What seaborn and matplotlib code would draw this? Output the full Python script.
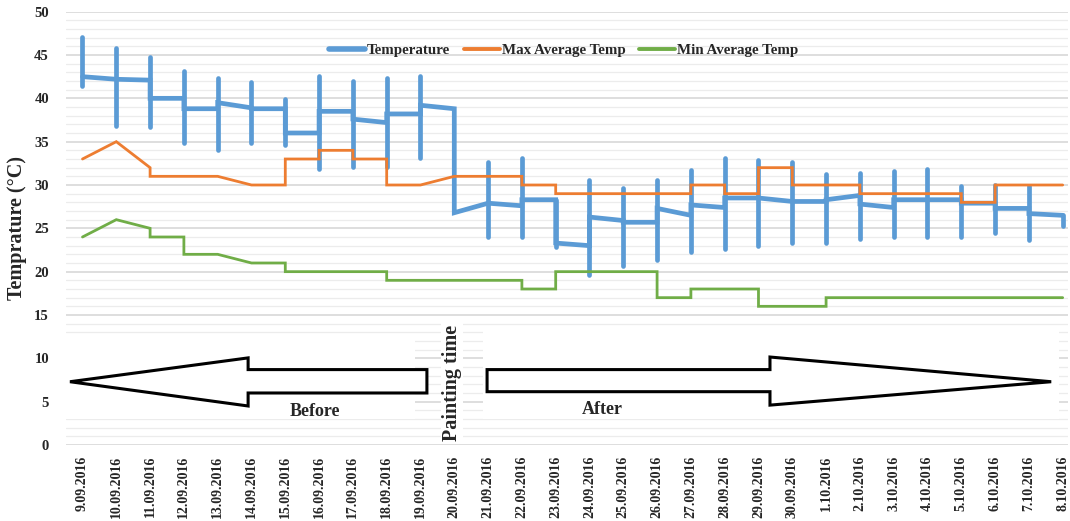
import numpy as np
import pandas as pd
import matplotlib
matplotlib.use("Agg")
import matplotlib.pyplot as plt
from matplotlib.ticker import MultipleLocator
from matplotlib.patches import Polygon, Rectangle
from matplotlib.lines import Line2D
import seaborn as sns

# ---------------- data ----------------
dates = ["9.09.2016", "10.09.2016", "11.09.2016", "12.09.2016", "13.09.2016",
         "14.09.2016", "15.09.2016", "16.09.2016", "17.09.2016", "18.09.2016",
         "19.09.2016", "20.09.2016", "21.09.2016", "22.09.2016", "23.09.2016",
         "24.09.2016", "25.09.2016", "26.09.2016", "27.09.2016", "28.09.2016",
         "29.09.2016", "30.09.2016", "1.10.2016", "2.10.2016", "3.10.2016",
         "4.10.2016", "5.10.2016", "6.10.2016", "7.10.2016", "8.10.2016"]

# Temperature: value arriving at each day, value leaving each day, daily low/high bars
temp_in = [42.5, 42.2, 42.1, 40.0, 38.8, 38.9, 38.8, 36.0, 38.5, 37.2,
           38.2, 38.8, 27.9, 27.6, 28.3, 23.0, 25.9, 25.7, 26.5, 27.4,
           28.5, 28.1, 28.1, 28.8, 27.4, 28.3, 28.3, 27.9, 27.3, 26.5]
temp_out = [42.5, 42.2, 40.0, 38.8, 39.5, 38.8, 36.0, 38.5, 37.6, 38.2,
            39.2, 26.8, 27.9, 28.3, 23.3, 26.3, 25.7, 27.3, 27.7, 28.5,
            28.5, 28.1, 28.3, 27.8, 28.3, 28.3, 27.9, 27.3, 26.7, 26.5]
temp_low = [41.4, 36.8, 36.7, 34.8, 34.0, 34.8, 34.6, 31.8, 32.1, 32.1,
            33.1, np.nan, 24.0, 24.0, 22.9, 19.6, 20.6, 21.3, 22.3, 22.6,
            23.0, 23.3, 23.3, 23.8, 24.0, 24.0, 24.0, 24.5, 23.6, 25.3]
temp_high = [47.1, 45.8, 44.8, 43.1, 42.3, 41.9, 39.9, 42.6, 42.0, 42.3,
             42.6, np.nan, 32.7, 33.1, 28.3, 30.6, 29.6, 30.6, 31.7, 33.1,
             32.9, 32.6, 31.3, 31.4, 31.6, 31.9, 29.9, 30.0, 29.9, 26.5]

max_in = [33, 35, 32, 31, 31, 30, 30, 33, 34, 33, 30, 31, 31, 31, 30,
          29, 29, 29, 29, 30, 29, 32, 30, 30, 29, 29, 29, 28, 30, 30]
max_out = [33, 35, 31, 31, 31, 30, 33, 34, 33, 30, 30, 31, 31, 30, 29,
           29, 29, 29, 30, 29, 32, 30, 30, 29, 29, 29, 28, 30, 30, 30]

min_in = [24, 26, 25, 24, 22, 21, 21, 20, 20, 20, 19, 19, 19, 19, 18,
          20, 20, 20, 17, 18, 18, 16, 16, 17, 17, 17, 17, 17, 17, 17]
min_out = [24, 26, 24, 22, 22, 21, 20, 20, 20, 19, 19, 19, 19, 18, 20,
           20, 20, 17, 18, 18, 16, 16, 17, 17, 17, 17, 17, 17, 17, 17]

series_names = ["Temperature", "Max Average Temp", "Min Average Temp"]
colors = {"Temperature": "#5B9BD5", "Max Average Temp": "#ED7D31",
          "Min Average Temp": "#70AD47"}
widths = {"Temperature": 3.4, "Max Average Temp": 2.0, "Min Average Temp": 2.0}

def long_form(name, vin, vout):
    rows = []
    for i in range(len(vin)):
        rows.append((name, i, vin[i]))
        rows.append((name, i, vout[i]))
    return pd.DataFrame(rows, columns=["series", "x", "y"])

df = pd.concat([long_form("Temperature", temp_in, temp_out),
                long_form("Max Average Temp", max_in, max_out),
                long_form("Min Average Temp", min_in, min_out)],
               ignore_index=True)

# ---------------- style ----------------
sns.set_theme(style="white")
plt.rcParams["font.family"] = ["Liberation Serif", "DejaVu Serif"]
plt.rcParams["font.weight"] = "bold"
plt.rcParams["axes.labelweight"] = "bold"

fig = plt.figure(figsize=(10.70, 5.21), dpi=100)
ax = fig.add_axes([0.0613, 0.1459, 0.9366, 0.8317])

ax.set_axisbelow(True)
ax.yaxis.set_major_locator(MultipleLocator(5))
ax.yaxis.set_minor_locator(MultipleLocator(1))
ax.grid(which="major", axis="y", color="#d4d4d4", lw=1.1)
ax.grid(which="minor", axis="y", color="#ececec", lw=0.9)
ax.grid(which="major", axis="x", visible=False)

# lines
for name in series_names:
    sub = df[df["series"] == name]
    sns.lineplot(data=sub, x="x", y="y", sort=False, estimator=None,
                 color=colors[name], lw=widths[name], ax=ax, legend=False,
                 zorder=4 if name != "Temperature" else 3,
                 solid_joinstyle="miter")

# daily range bars for temperature
x_idx = np.arange(len(dates))
lo = np.array(temp_low, dtype=float)
hi = np.array(temp_high, dtype=float)
ok = ~np.isnan(lo)
ax.vlines(x_idx[ok], lo[ok], hi[ok], color=colors["Temperature"],
          lw=widths["Temperature"], zorder=3, capstyle="round")

# white panels behind arrows
ax.add_patch(Rectangle((-0.5, 2.95), 10.35, 9.45, facecolor="white",
                       edgecolor="none", zorder=1))
ax.add_patch(Rectangle((11.85, 2.95), 17.05, 10.5, facecolor="white",
                       edgecolor="none", zorder=1))

# arrows
left_arrow = [(-0.37, 7.3), (4.9, 10.05), (4.9, 8.7), (10.19, 8.7),
              (10.19, 6.0), (4.9, 6.0), (4.9, 4.5)]
right_arrow = [(11.97, 8.7), (20.34, 8.7), (20.34, 10.15), (28.66, 7.3),
               (20.34, 4.6), (20.34, 6.15), (11.97, 6.15)]
for pts in (left_arrow, right_arrow):
    ax.add_patch(Polygon(pts, closed=True, facecolor="white",
                         edgecolor="black", lw=2.2, zorder=5,
                         joinstyle="miter"))

ax.text(6.89, 3.85, "Before", ha="center", va="center", fontsize=13,
        fontweight="bold", zorder=6)
ax.text(15.37, 4.1, "After", ha="center", va="center", fontsize=13,
        fontweight="bold", zorder=6)
ax.text(10.93, 7.2, "Painting time", ha="center", va="center", fontsize=14.5,
        fontweight="bold", rotation=90, zorder=6,
        bbox=dict(facecolor="white", edgecolor="none", pad=1))

# axes
ax.set_xlim(-0.5, 29.15)
ax.set_ylim(0, 50)
ax.set_xticks(x_idx)
ax.set_xticklabels(dates, rotation=90, fontsize=10, fontweight="bold")
ax.tick_params(axis="y", labelsize=10.5, length=0, pad=12)
ax.tick_params(axis="x", length=0, pad=8)
for lab in ax.get_yticklabels():
    lab.set_fontweight("bold")
ax.set_xlabel("")
ax.set_ylabel("Temprature (°C)", fontsize=14.5, fontweight="bold", labelpad=5)
for s in ax.spines.values():
    s.set_visible(False)

handles = [Line2D([0], [0], color=colors[n], lw=4 if n == "Temperature" else 2.8,
                  solid_capstyle="round") for n in series_names]
leg = ax.legend(handles, series_names, loc="center", bbox_to_anchor=(0.497, 0.91),
                ncol=3, frameon=False, fontsize=10.8, handlelength=2.4,
                columnspacing=0.9, handletextpad=0.15)
for t in leg.get_texts():
    t.set_fontweight("bold")

fig.savefig("out.png", dpi=100)
